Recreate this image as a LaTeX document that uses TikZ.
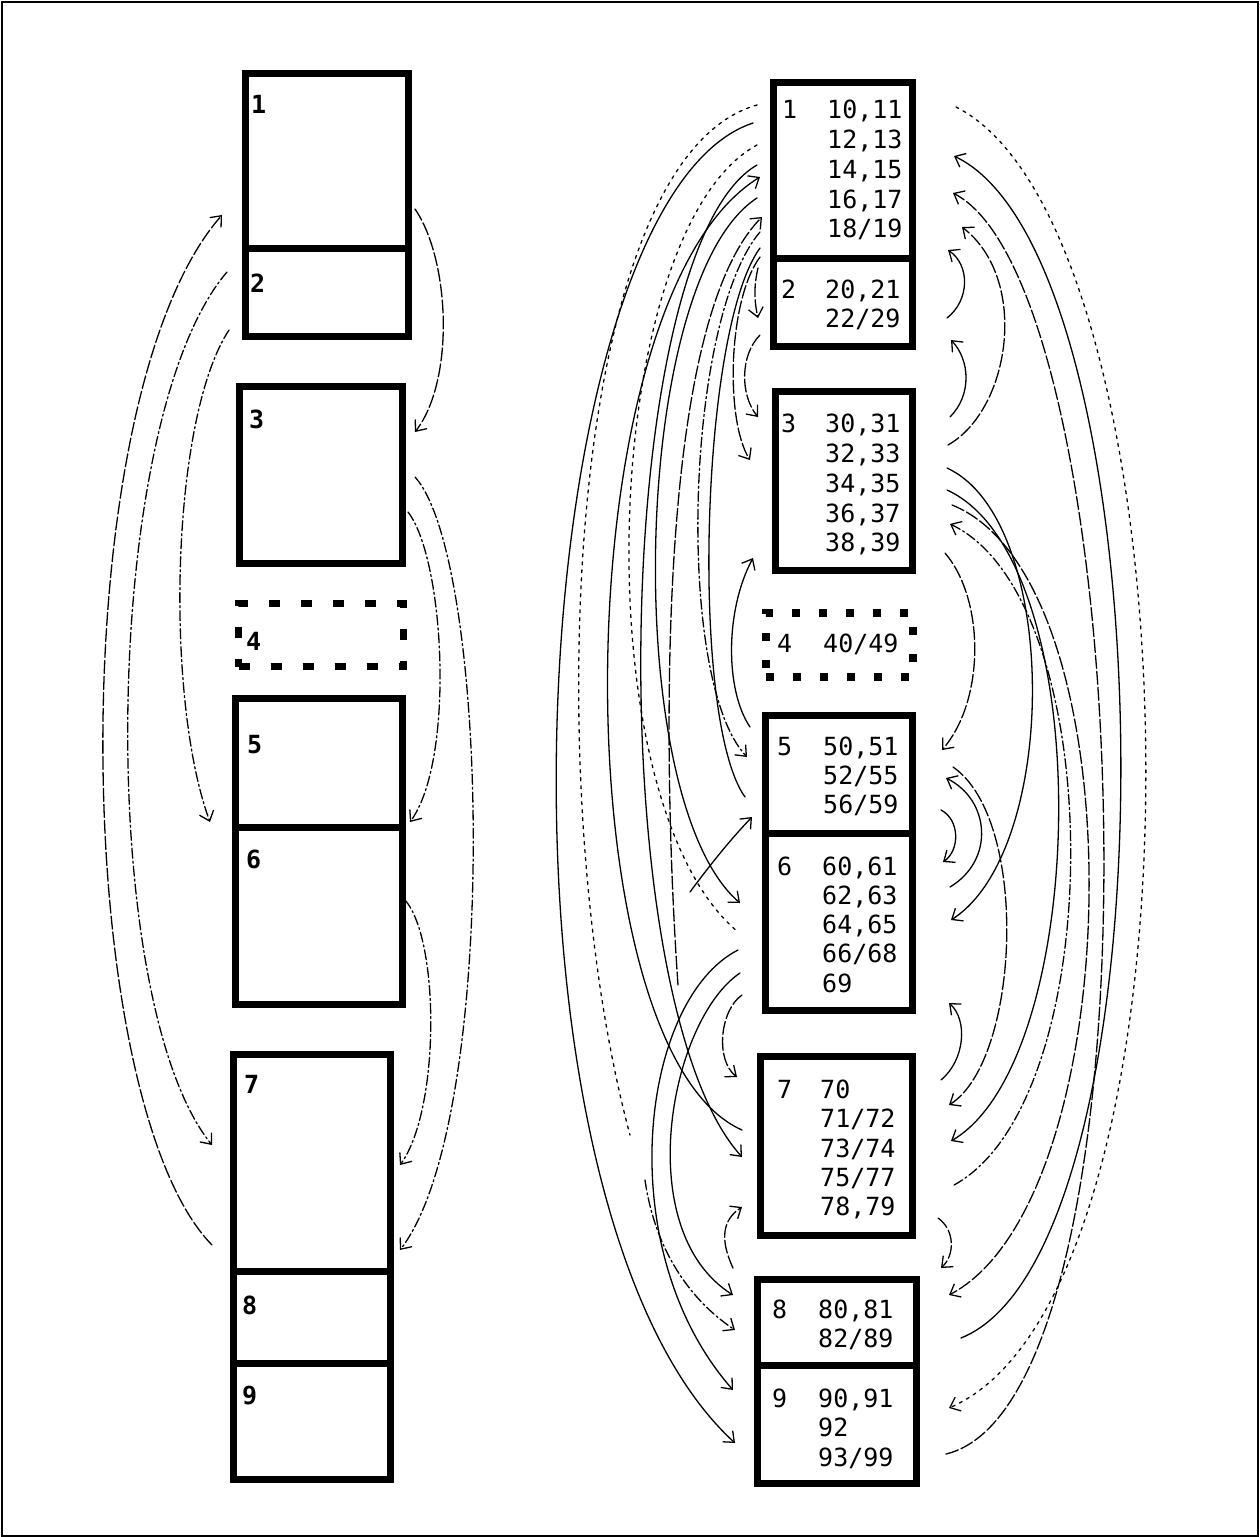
\documentclass[tikz,border=0pt]{standalone}
\usepackage{fontspec}
\newfontfamily\hand{DejaVu Sans Mono}
\usetikzlibrary{arrows.meta}
\tikzset{
  box/.style={draw, line width=7pt, inner sep=0pt, outer sep=0pt},
  ldbox/.style={box, line width=7.5pt, dash pattern=on 11pt off 21pt},
  rdbox/.style={box, line width=7.5pt, dash pattern=on 8pt off 19pt},
  val/.style={anchor=base west, inner sep=0pt, font=\hand\fontsize{25}{30}\selectfont},
  lab/.style={anchor=base west, inner sep=0pt, font=\hand\bfseries\fontsize{25}{30}\selectfont},
  ln/.style={line width=1.3pt, line cap=round},
  sl/.style={ln},
  da/.style={ln, dash pattern=on 13pt off 3pt},
  dd/.style={ln, dash pattern=on 10pt off 3pt on 2pt off 3pt},
  dt/.style={ln, dash pattern=on 3pt off 5pt},
  arr/.style={-{Straight Barb[length=9pt,width=15pt]}},
}
\newcommand\mkcell[6]{\node[#6, minimum width={#4-#2}, minimum height={#5-#3}] (#1) at ({(#2+#4)/2},{(#3+#5)/2}) {};}
\begin{document}
\begin{tikzpicture}[x=1pt,y=-1pt]
\useasboundingbox (0,0) rectangle (1259,1537);
\draw[line width=2pt] (1.5,1.5) rectangle (1257.5,1535.5);

% ---------- left column ----------
\mkcell{LA}{245}{73.5}{408}{248.5}{box}
\mkcell{LB}{245}{248.5}{408}{336}{box}
\mkcell{LC}{239.5}{386.5}{402.5}{563.5}{box}
\mkcell{LD}{238.5}{603.5}{403.5}{666.5}{ldbox}
\mkcell{LE}{235}{698.5}{402}{827.5}{box}
\mkcell{LF}{235}{827.5}{402}{1004}{box}
\mkcell{LG}{233}{1054}{390}{1271}{box}
\mkcell{LH}{233}{1271}{390}{1363}{box}
\mkcell{LI}{233}{1363}{390}{1479}{box}

\node[lab] (l1) at (251,113) {1};
\node[lab] (l2) at (250,292) {2};
\node[lab] (l3) at (249,428) {3};
\node[lab] (l4) at (246,650) {4};
\node[lab] (l5) at (247,753) {5};
\node[lab] (l6) at (246,868) {6};
\node[lab] (l7) at (244,1093) {7};
\node[lab] (l8) at (242,1314) {8};
\node[lab] (l9) at (242,1404) {9};

% left column connectors
\draw[dd,arr] (229,330) coordinate (la0) .. controls (170,420) and (165,700) .. (210,822) coordinate (la1);
\draw[dd,arr] (227,272) coordinate (lb0) .. controls (100,420) and (95,1000) .. (212,1145) coordinate (lb1);
\draw[da,arr] (212,1245) coordinate (lc0) .. controls (70,1100) and (60,400) .. (222,215) coordinate (lc1);
\draw[da,arr] (415,209) coordinate (ld0) .. controls (450,260) and (455,380) .. (415,432) coordinate (ld1);
\draw[dd,arr] (415,477) coordinate (le0) .. controls (490,560) and (500,1120) .. (400,1250) coordinate (le1);
\draw[dd,arr] (408,512) coordinate (lf0) .. controls (445,560) and (455,760) .. (410,822) coordinate (lf1);
\draw[dd,arr] (405,900) coordinate (lg0) .. controls (440,940) and (440,1110) .. (400,1165) coordinate (lg1);

% ---------- right column ----------
\mkcell{RA}{773}{82.5}{912.5}{258.5}{box}
\mkcell{RB}{773}{258.5}{912.5}{346.5}{box}
\mkcell{RC}{775}{391.5}{912}{570}{box}
\mkcell{RD}{766}{613}{913}{677}{rdbox}
\mkcell{RE}{765}{715}{912}{833.5}{box}
\mkcell{RF}{765}{833.5}{912}{1010.5}{box}
\mkcell{RG}{760}{1056.5}{912}{1235}{box}
\mkcell{RH}{757.5}{1279.5}{916}{1365.5}{box}
\mkcell{RI}{757.5}{1365.5}{916}{1483.5}{box}

\node[val] (r1) at (782,118) {1};
\node[val] (v10) at (827,118) {10,11};
\node[val] (v12) at (827,148) {12,13};
\node[val] (v14) at (827,178) {14,15};
\node[val] (v16) at (827,208) {16,17};
\node[val] (v18) at (827,237) {18/19};
\node[val] (r2) at (781,298) {2};
\node[val] (v20) at (825,298) {20,21};
\node[val] (v22) at (825,327) {22/29};
\node[val] (r3) at (781,432) {3};
\node[val] (v30) at (825,432) {30,31};
\node[val] (v32) at (825,462) {32,33};
\node[val] (v34) at (825,492) {34,35};
\node[val] (v36) at (825,522) {36,37};
\node[val] (v38) at (825,551) {38,39};
\node[val] (r4) at (777,652) {4};
\node[val] (v40) at (823,652) {40/49};
\node[val] (r5) at (777,755) {5};
\node[val] (v50) at (823,755) {50,51};
\node[val] (v52) at (823,784) {52/55};
\node[val] (v56) at (823,813) {56/59};
\node[val] (r6) at (777,875) {6};
\node[val] (v60) at (822,875) {60,61};
\node[val] (v62) at (822,904) {62,63};
\node[val] (v64) at (822,933) {64,65};
\node[val] (v66) at (822,962) {66/68};
\node[val] (v69) at (822,992) {69};
\node[val] (r7) at (777,1098) {7};
\node[val] (v70) at (820,1098) {70};
\node[val] (v71) at (820,1127) {71/72};
\node[val] (v73) at (820,1157) {73/74};
\node[val] (v75) at (820,1186) {75/77};
\node[val] (v78) at (820,1215) {78,79};
\node[val] (r8) at (772,1318) {8};
\node[val] (v80) at (818,1318) {80,81};
\node[val] (v82) at (818,1347) {82/89};
\node[val] (r9) at (772,1407) {9};
\node[val] (v90) at (818,1407) {90,91};
\node[val] (v92) at (818,1436) {92};
\node[val] (v93) at (818,1466) {93/99};

% right column, left-side connectors
\draw[sl,arr] (753,123) coordinate (a0) .. controls (520,200) and (470,1200) .. (735,1443) coordinate (a1);
\draw[dt] (757,105) coordinate (b0) .. controls (560,160) and (540,800) .. (630,1135) coordinate (b1);
\draw[sl,arr] (742,1130) coordinate (c0) .. controls (560,1050) and (560,300) .. (760,177) coordinate (c1);
\draw[dt] (757,145) coordinate (d0) .. controls (600,230) and (580,800) .. (738,932) coordinate (d1);
\draw[sl,arr] (757,198) coordinate (e0) .. controls (630,280) and (620,800) .. (740,903) coordinate (e1);
\draw[da,arr] (678,985) coordinate (f0) .. controls (665,800) and (650,330) .. (762,217) coordinate (f1);
\draw[dd,arr] (760,232) coordinate (g0) .. controls (685,320) and (675,680) .. (747,757) coordinate (g1);
\draw[sl] (760,248) coordinate (h0) .. controls (700,330) and (690,720) .. (745,797) coordinate (h1);
\draw[da,arr] (760,257) coordinate (i0) .. controls (728,300) and (725,420) .. (750,460) coordinate (i1);
\draw[da,arr] (758,268) coordinate (j0) .. controls (754,285) and (754,300) .. (758,318) coordinate (j1);
\draw[da,arr] (760,335) coordinate (k0) .. controls (740,355) and (740,395) .. (758,417) coordinate (k1);
\draw[sl,arr] (750,727) coordinate (m0) .. controls (725,690) and (725,610) .. (753,558) coordinate (m1);
\draw[sl,arr] (690,892) coordinate (n0) .. controls (710,865) and (730,840) .. (752,817) coordinate (n1);
\draw[sl,arr] (738,950) coordinate (o0) .. controls (640,1000) and (610,1250) .. (733,1390) coordinate (o1);
\draw[sl,arr] (740,973) coordinate (p0) .. controls (670,1020) and (630,1230) .. (733,1295) coordinate (p1);
\draw[da,arr] (742,995) coordinate (q0) .. controls (720,1010) and (715,1060) .. (737,1077) coordinate (q1);
\draw[da,arr] (733,1268) coordinate (s0) .. controls (720,1240) and (722,1220) .. (742,1207) coordinate (s1);
\draw[sl,arr] (757,165) coordinate (t0) .. controls (610,250) and (600,1000) .. (742,1157) coordinate (t1);
\draw[dd,arr] (645,1180) coordinate (u0) .. controls (655,1250) and (690,1300) .. (735,1330) coordinate (u1);

% right column, right-side connectors
\draw[dt,arr] (956,107) coordinate (A0) .. controls (1200,230) and (1220,1290) .. (949,1408) coordinate (A1);
\draw[sl,arr] (961,1338) coordinate (B0) .. controls (1180,1250) and (1170,260) .. (954,156) coordinate (B1);
\draw[da,arr] (946,1454) coordinate (C0) .. controls (1170,1400) and (1140,290) .. (953,193) coordinate (C1);
\draw[da,arr] (948,445) coordinate (D0) .. controls (1010,410) and (1030,280) .. (962,227) coordinate (D1);
\draw[sl,arr] (947,318) coordinate (E0) .. controls (970,300) and (970,265) .. (948,250) coordinate (E1);
\draw[sl,arr] (950,417) coordinate (F0) .. controls (972,395) and (970,360) .. (951,340) coordinate (F1);
\draw[da,arr] (945,553) coordinate (G0) .. controls (985,600) and (985,700) .. (942,750) coordinate (G1);
\draw[sl,arr] (941,810) coordinate (H0) .. controls (960,820) and (960,850) .. (943,862) coordinate (H1);
\draw[sl,arr] (950,887) coordinate (I0) .. controls (995,860) and (990,800) .. (946,778) coordinate (I1);
\draw[sl,arr] (941,1080) coordinate (J0) .. controls (965,1060) and (968,1020) .. (949,1003) coordinate (J1);
\draw[da,arr] (938,1218) coordinate (K0) .. controls (955,1230) and (955,1255) .. (941,1268) coordinate (K1);
\draw[sl,arr] (947,468) coordinate (L0) .. controls (1060,520) and (1060,850) .. (951,920) coordinate (L1);
\draw[sl,arr] (947,490) coordinate (M0) .. controls (1100,560) and (1090,1060) .. (951,1141) coordinate (M1);
\draw[da,arr] (953,767) coordinate (N0) .. controls (1030,820) and (1020,1060) .. (949,1105) coordinate (N1);
\draw[dd,arr] (954,1185) coordinate (O0) .. controls (1110,1100) and (1110,600) .. (950,524) coordinate (O1);
\draw[da,arr] (952,505) coordinate (P0) .. controls (1140,580) and (1130,1200) .. (949,1295) coordinate (P1);
\end{tikzpicture}
\end{document}
